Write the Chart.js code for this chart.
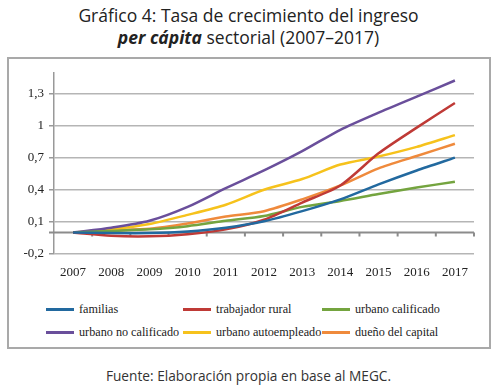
<!DOCTYPE html>
<html>
<head>
<meta charset="utf-8">
<script src="https://cdn.jsdelivr.net/npm/chart.js@4.4.1/dist/chart.umd.min.js"></script>
<style>
  body { margin: 0; width: 497px; height: 386px; background: #fff; position: relative; overflow: hidden; }
  #title { position: absolute; left: 0; top: 4px; width: 497px; text-align: center;
           font-family: "Open Sans", sans-serif; font-size: 17.5px; line-height: 22px; color: #222; }
  #frame { position: absolute; left: 7px; top: 57px; width: 480px; height: 288px;
           border: 2px solid #a9a9a9; background: #fff; }
  #chartBox { position: absolute; left: 8px; top: 58px; width: 481px; height: 226px; }
  .leg { position: absolute; font-family: "Liberation Serif", serif; font-size: 12.2px; color: #222;
         white-space: nowrap; line-height: 14px; }
  .leg span.ln { display: inline-block; width: 28px; height: 3px; vertical-align: middle;
                 margin-right: 5px; position: relative; top: -1px; }
  #foot { position: absolute; left: 0; top: 366px; width: 497px; text-align: center;
          font-family: "Open Sans", sans-serif; font-size: 13.7px; color: #333; }
</style>
</head>
<body>
<div id="title">Gráfico 4: Tasa de crecimiento del ingreso<br><b><i>per cápita</i></b> sectorial (2007–2017)</div>
<div id="frame"></div>
<div id="chartBox"><canvas id="myChart" width="481" height="226"></canvas></div>
<div id="legend"></div>
<div id="foot">Fuente: Elaboración propia en base al MEGC.</div>
<script>
// datos
var years = ["2007", "2008", "2009", "2010", "2011", "2012", "2013", "2014", "2015", "2016", "2017"];
var familias = [0, -0.005, -0.005, 0.01, 0.045, 0.105, 0.2, 0.31, 0.45, 0.58, 0.70];
var trabajadorRural = [0, -0.03, -0.035, -0.015, 0.03, 0.12, 0.28, 0.44, 0.74, 0.98, 1.21];
var urbanoCalificado = [0, 0.015, 0.03, 0.06, 0.11, 0.155, 0.24, 0.295, 0.36, 0.42, 0.475];
var urbanoNoCalificado = [0, 0.045, 0.11, 0.24, 0.415, 0.58, 0.76, 0.96, 1.12, 1.27, 1.42];
var urbanoAutoempleado = [0, 0.03, 0.08, 0.165, 0.26, 0.40, 0.50, 0.635, 0.71, 0.80, 0.91];
var duenoCapital = [0, 0.02, 0.035, 0.085, 0.15, 0.2, 0.31, 0.44, 0.6, 0.715, 0.83];
var yTicks = [-0.2, 0.1, 0.4, 0.7, 1, 1.3];

var series = [
    { label: "familias", data: familias, color: "#22699f" },
    { label: "trabajador rural", data: trabajadorRural, color: "#bf3a36" },
    { label: "urbano calificado", data: urbanoCalificado, color: "#74a43f" },
    { label: "urbano no calificado", data: urbanoNoCalificado, color: "#6a4f9b" },
    { label: "urbano autoempleado", data: urbanoAutoempleado, color: "#f6c21c" },
    { label: "dueño del capital", data: duenoCapital, color: "#ef8a3c" }
];

// línea del cero con marcas entre categorías
var zeroLine = {
    id: "zeroLine",
    beforeDatasetsDraw: function (chart) {
        var ctx = chart.ctx, area = chart.chartArea;
        var x = chart.scales.x, y0 = chart.scales.y.getPixelForValue(0);
        var step = x.getPixelForTick(1) - x.getPixelForTick(0);
        ctx.save();
        ctx.strokeStyle = "#8c8c8c";
        ctx.lineWidth = 2;
        ctx.beginPath();
        ctx.moveTo(area.left - 5, y0);
        ctx.lineTo(area.right, y0);
        for (var i = 0; i < years.length; i++) {
            var px = x.getPixelForTick(i) + step / 2;
            ctx.moveTo(px, y0);
            ctx.lineTo(px, y0 + 4);
        }
        ctx.stroke();
        ctx.restore();
    }
};

var chart = new Chart(document.getElementById("myChart"), {
    type: "line",
    data: {
        labels: years,
        datasets: series.map(function (s) {
            return {
                label: s.label,
                data: s.data,
                borderColor: s.color,
                backgroundColor: s.color,
                borderWidth: 2.5,
                pointRadius: 0,
                tension: 0.25
            };
        })
    },
    options: {
        responsive: false,
        animation: false,
        layout: { padding: { top: 15, right: 15, left: 0, bottom: 0 } },
        plugins: {
            legend: { display: false },
            tooltip: { enabled: false }
        },
        scales: {
            x: {
                offset: true,
                grid: { display: false, drawTicks: false },
                border: { display: false },
                ticks: {
                    padding: 11,
                    color: "#222",
                    maxRotation: 0,
                    font: { family: "Liberation Serif", size: 13 }
                },
                afterFit: function (scale) { scale.height = 30; }
            },
            y: {
                min: -0.2,
                max: 1.49,
                afterBuildTicks: function (scale) {
                    scale.ticks = yTicks.map(function (v) { return { value: v }; });
                },
                afterFit: function (scale) { scale.width = 46; },
                grid: { color: "#b5b5b5", lineWidth: 1.5, tickLength: 5, tickColor: "#999" },
                border: { color: "#999", width: 1.5 },
                ticks: {
                    padding: 5,
                    color: "#222",
                    font: { family: "Liberation Serif", size: 13 },
                    callback: function (v) {
                        return (Math.round(v * 10) / 10).toString().replace(".", ",");
                    }
                }
            }
        }
    },
    plugins: [zeroLine]
});

// leyenda en tres columnas
var legCols = [46, 183, 322];
var legRows = [302, 325];
var legend = document.getElementById("legend");
chart.data.datasets.forEach(function (ds, i) {
    var d = document.createElement("div");
    d.className = "leg";
    d.style.left = legCols[i % 3] + "px";
    d.style.top = legRows[Math.floor(i / 3)] + "px";
    d.innerHTML = '<span class="ln" style="background:' + ds.borderColor + '"></span>' + ds.label;
    legend.appendChild(d);
});
</script>
</body>
</html>
